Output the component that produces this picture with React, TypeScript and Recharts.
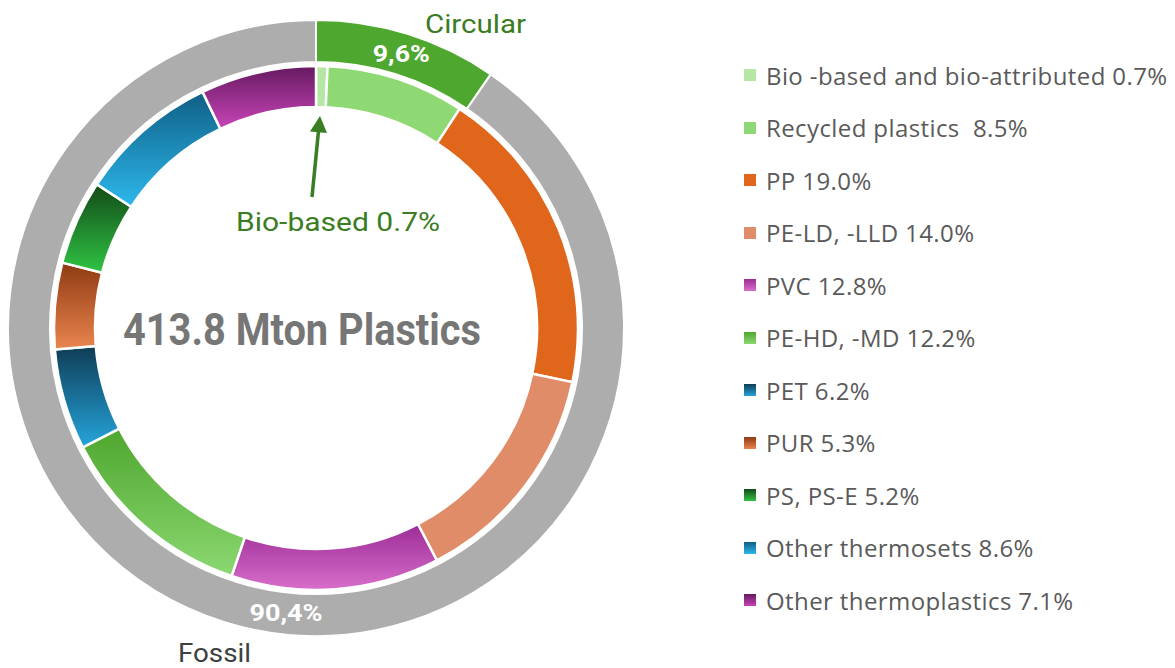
import { Legend, Pie, PieChart, Cell } from "recharts";

const innerNames = [
  "Bio -based and bio-attributed",
  "Recycled plastics ",
  "PP",
  "PE-LD, -LLD",
  "PVC",
  "PE-HD, -MD",
  "PET",
  "PUR",
  "PS, PS-E",
  "Other thermosets",
  "Other thermoplastics",
];
const innerValues = [0.7, 8.5, 19.0, 14.0, 12.8, 12.2, 6.2, 5.3, 5.2, 8.6, 7.1];

const outerNames = ["Circular", "Fossil"];
const outerValues = [9.6, 90.4];
const outerLabels = ["9,6%", "90,4%"];

// [top, bottom] colours, office-style vertical gradients
const innerFills: [string, string][] = [
  ["#b6e6a4", "#b6e6a4"],
  ["#8ed973", "#8ed973"],
  ["#e0661c", "#e0661c"],
  ["#e08c68", "#e08c68"],
  ["#9c2c96", "#d86ecb"],
  ["#4ea72e", "#8cd872"],
  ["#0f3c55", "#25a5dc"],
  ["#8e3a12", "#ea854f"],
  ["#124a18", "#30c444"],
  ["#0f5f85", "#2db8ec"],
  ["#661a60", "#c844b8"],
];
const outerFills = ["#4ea72e", "#adadad"];

const innerData = innerNames.map((name, i) => ({ name, value: innerValues[i] }));
const outerData = outerNames.map((name, i) => ({ name, value: outerValues[i] }));

const CX = 316;
const CY = 328;
const FONT = "Roboto, 'Open Sans', sans-serif";
const GREEN = "#3a7d22";

function renderOuterLabel(props: any) {
  const { cx, cy, midAngle, innerRadius, outerRadius, index } = props;
  const r = (innerRadius + outerRadius) / 2;
  // fossil label sits off the arc's middle, near the bottom
  const angle = index === 1 ? -96 : midAngle;
  const rad = (angle * Math.PI) / 180;
  const x = cx + r * Math.cos(rad);
  const y = cy - r * Math.sin(rad);
  return (
    <text
      x={x}
      y={y + 8}
      fill="#ffffff"
      fontFamily={FONT}
      fontWeight={700}
      fontSize={24}
      textAnchor="middle"
      textLength={index === 1 ? 73 : 57}
      lengthAdjust="spacingAndGlyphs"
    >
      {outerLabels[index]}
    </text>
  );
}

function LegendList() {
  return (
    <div
      style={{
        fontFamily: "'Open Sans', sans-serif",
        fontSize: 24,
        letterSpacing: 0.4,
        color: "#5a5a5a",
      }}
    >
      {innerNames.map((name, i) => (
        <div
          key={name}
          style={{ display: "flex", alignItems: "center", height: 52.5, whiteSpace: "pre" }}
        >
          <span
            style={{
              width: 12,
              height: 12,
              marginRight: 10,
              background: `linear-gradient(${innerFills[i][0]}, ${innerFills[i][1]})`,
              display: "inline-block",
              flex: "none",
            }}
          />
          {`${name} ${innerValues[i].toFixed(1)}%`}
        </div>
      ))}
    </div>
  );
}

export default function App() {
  return (
    <div style={{ position: "absolute", left: 0, top: 0, width: 1175, height: 668, background: "#fff" }}>
      <svg width={0} height={0} style={{ position: "absolute" }}>
        <defs>
          {innerFills.map((c, i) => (
            <linearGradient key={i} id={`g${i}`} x1="0" y1="0" x2="0" y2="1">
              <stop offset="0%" stopColor={c[0]} />
              <stop offset="100%" stopColor={c[1]} />
            </linearGradient>
          ))}
        </defs>
      </svg>
      <PieChart width={1175} height={668} margin={{ top: 0, right: 0, bottom: 0, left: 0 }}>
        <Pie
          data={outerData}
          dataKey="value"
          nameKey="name"
          cx={CX}
          cy={CY}
          innerRadius={266}
          outerRadius={308}
          startAngle={90}
          endAngle={-270}
          stroke="#ffffff"
          strokeWidth={2}
          label={renderOuterLabel}
          labelLine={false}
          isAnimationActive={false}
        >
          {outerData.map((_, i) => (
            <Cell key={i} fill={outerFills[i]} />
          ))}
        </Pie>
        <Pie
          data={innerData}
          dataKey="value"
          nameKey="name"
          cx={CX}
          cy={CY}
          innerRadius={221}
          outerRadius={262}
          startAngle={90}
          endAngle={-270}
          stroke="#ffffff"
          strokeWidth={2.5}
          isAnimationActive={false}
        >
          {innerData.map((_, i) => (
            <Cell key={i} fill={`url(#g${i})`} />
          ))}
        </Pie>
        <Legend
          layout="vertical"
          align="right"
          verticalAlign="top"
          wrapperStyle={{ left: 744, top: 49, width: 430 }}
          content={() => <LegendList />}
        />
      </PieChart>
      <svg
        width={1175}
        height={668}
        style={{ position: "absolute", left: 0, top: 0, pointerEvents: "none" }}
      >
        <text x={425} y={33} fill={GREEN} fontFamily={FONT} fontSize={26} textLength={101} lengthAdjust="spacingAndGlyphs">
          Circular
        </text>
        <text x={178} y={662} fill="#404040" fontFamily={FONT} fontSize={26} textLength={73} lengthAdjust="spacingAndGlyphs">
          Fossil
        </text>
        <text x={236} y={231} fill={GREEN} fontFamily={FONT} fontSize={26} textLength={204} lengthAdjust="spacingAndGlyphs">
          Bio-based 0.7%
        </text>
        <line x1={312} y1={197} x2={318.5} y2={131} stroke={GREEN} strokeWidth={3.5} />
        <polygon points="320,116 327,133 310,131.5" fill={GREEN} />
        <text
          x={123}
          y={345}
          fill="#767676"
          fontFamily={FONT}
          fontWeight={700}
          fontSize={45}
          textLength={358}
          lengthAdjust="spacingAndGlyphs"
        >
          413.8 Mton Plastics
        </text>
      </svg>
    </div>
  );
}
